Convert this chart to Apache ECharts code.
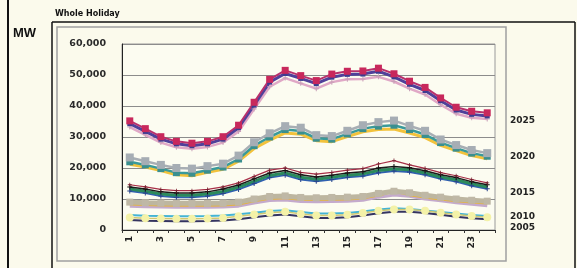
<!DOCTYPE html>
<html>
<head>
<meta charset="utf-8">
<script src="https://cdn.jsdelivr.net/npm/echarts@6/dist/echarts.min.js"></script>
<style>
  html, body { margin: 0; padding: 0; background: #fbfaec; }
  #chart { width: 577px; height: 268px; }
</style>
</head>
<body>
<div id="chart"></div>
<script>
// hours of the day
const hours = Array.from({ length: 24 }, (_, i) => String(i + 1))
const xTickLabels = ['1', '3', '5', '7', '9', '11', '13', '15', '17', '19', '21', '23']
const yTicks = [0, 10000, 20000, 30000, 40000, 50000, 60000]
const yearLabels = ['2025', '2020', '2015', '2010', '2005']

// 2025 band
const y2025a = [35200, 32700, 30100, 28600, 28000, 28600, 30100, 33800, 41200, 48600, 51500, 49800, 48200, 50300, 51200, 51300, 52200, 50400, 48000, 46000, 42600, 39600, 38300, 37800]
const y2025b = [34300, 31800, 29300, 27800, 27200, 27800, 29300, 33000, 40300, 47700, 50500, 48900, 47200, 49300, 50200, 50300, 51200, 49400, 47000, 45000, 41700, 38700, 37300, 36800]
const y2025c = [33200, 30700, 28200, 26700, 26200, 26800, 28200, 31800, 39000, 46200, 49000, 47300, 45600, 47700, 48600, 48700, 49400, 47900, 45600, 43700, 40400, 37500, 36200, 35800]

// 2020 band
const y2020a = [23400, 22200, 21000, 20000, 19800, 20600, 21400, 24000, 28300, 31200, 33500, 33000, 30600, 30300, 32000, 33800, 34800, 35300, 33600, 32000, 29200, 27400, 25800, 24800]
const y2020b = [22000, 21000, 19800, 18500, 18300, 19300, 20300, 22900, 27200, 30000, 32400, 31900, 29600, 29300, 31000, 32700, 33500, 33800, 32400, 30800, 28200, 26400, 24800, 23800]
const y2020c = [21200, 20300, 19200, 17800, 17500, 18600, 19600, 22200, 26300, 29000, 31300, 30900, 28800, 28500, 30100, 31700, 32400, 32600, 31300, 29800, 27300, 25600, 24000, 23000]

// 2015 band
const y2015a = [14600, 13900, 13100, 12700, 12700, 13100, 13900, 15200, 17300, 19300, 20000, 18600, 18000, 18600, 19300, 19800, 21300, 22400, 21000, 19900, 18500, 17500, 16300, 15200]
const y2015b = [13900, 13200, 12300, 11900, 11900, 12300, 13200, 14500, 16500, 18400, 19200, 17800, 17100, 17700, 18400, 18800, 20000, 20500, 20100, 19100, 17800, 16900, 15600, 14600]
const y2015c = [13200, 12500, 11600, 11200, 11200, 11600, 12400, 13800, 15700, 17600, 18400, 17000, 16400, 17000, 17700, 18100, 19200, 19700, 19400, 18400, 17100, 16200, 14900, 13900]
const y2015d = [12600, 11900, 11000, 10600, 10600, 11000, 11800, 13100, 15000, 16900, 17700, 16300, 15700, 16300, 17000, 17400, 18500, 19000, 18700, 17800, 16500, 15600, 14300, 13300]

// 2010 band
const y2010a = [9000, 8800, 8700, 8600, 8600, 8600, 8700, 9000, 10000, 10800, 11000, 10500, 10400, 10500, 10600, 10800, 11800, 12500, 12000, 11200, 10600, 10000, 9600, 9300]
const y2010b = [8400, 8200, 8100, 8000, 8000, 8000, 8100, 8400, 9400, 10200, 10400, 9900, 9800, 9900, 10000, 10300, 11300, 12600, 11400, 10600, 10000, 9400, 9000, 8700]
const y2010c = [7700, 7500, 7400, 7300, 7300, 7300, 7400, 7700, 8700, 9500, 9700, 9200, 9100, 9200, 9300, 9600, 10600, 11300, 10900, 10000, 9400, 8800, 8300, 7800]

// 2005 band
const y2005a = [4800, 4600, 4500, 4400, 4400, 4500, 4700, 5100, 5600, 6100, 6400, 5800, 5300, 5300, 5500, 6000, 6600, 7000, 6800, 6300, 5800, 5300, 4800, 4500]
const y2005b = [4000, 3800, 3700, 3600, 3600, 3700, 3900, 4400, 5000, 5600, 5900, 5200, 4700, 4700, 4900, 5500, 6200, 6600, 6600, 6200, 5600, 5000, 4500, 4100]
const y2005c = [3200, 3000, 2900, 2800, 2800, 2900, 3100, 3500, 4100, 4700, 5000, 4400, 3900, 3900, 4100, 4700, 5400, 5900, 5900, 5500, 4900, 4300, 3800, 3500]

const crossPath = 'path://M4,0 L6,0 L6,4 L10,4 L10,6 L6,6 L6,10 L4,10 L4,6 L0,6 L0,4 L4,4 Z'

const line = (data, color, width, symbol, size, symColor) => ({
  type: 'line',
  data,
  smooth: false,
  symbol: symbol || 'none',
  symbolSize: size || 0,
  showSymbol: !!symbol,
  lineStyle: { color, width },
  itemStyle: { color: symColor || color, borderWidth: 0 },
  animation: false,
  z: 3
})

const chart = echarts.init(document.getElementById('chart'), null, { renderer: 'canvas' })

const labelYs = [122, 158, 194, 218, 229]

// frame, titles and year tags
const frame = [
  { type: 'rect', shape: { x: 7, y: 0, width: 2, height: 268 }, style: { fill: '#111' } },
  { type: 'line', shape: { x1: 52, y1: 22, x2: 52, y2: 268 }, style: { stroke: '#111', lineWidth: 1.5 } },
  { type: 'line', shape: { x1: 52, y1: 22, x2: 575, y2: 22 }, style: { stroke: '#111', lineWidth: 1.5 } },
  { type: 'line', shape: { x1: 575, y1: 22, x2: 575, y2: 268 }, style: { stroke: '#111', lineWidth: 1.5 } },
  { type: 'rect', shape: { x: 57, y: 27, width: 449, height: 234 }, style: { fill: 'none', stroke: '#a0a0a0', lineWidth: 1.5 } },
  { type: 'text', left: 55, top: 10, style: { text: 'Whole Holiday', fontSize: 8, fontWeight: 'bold', fontFamily: 'DejaVu Sans', fill: '#111' } },
  { type: 'text', left: 13, top: 27, style: { text: 'MW', fontSize: 13, fontWeight: 'bold', fontFamily: 'Liberation Sans', fill: '#111' } },
  ...yearLabels.map((t, i) => ({
    type: 'text', left: 510, top: labelYs[i] - 6,
    style: { text: t, fontSize: 9, fontWeight: 'bold', fontFamily: 'DejaVu Sans', fill: '#222' }
  }))
]

chart.setOption({
  backgroundColor: '#fbfaec',
  animation: false,
  grid: {
    left: 122, right: 82, top: 44, bottom: 38,
    show: true, borderColor: '#9a9a9a', borderWidth: 1, backgroundColor: '#fcfcf1'
  },
  xAxis: {
    type: 'category',
    data: hours,
    boundaryGap: true,
    axisLine: { lineStyle: { color: '#222', width: 1 } },
    axisTick: { show: true, alignWithLabel: false, interval: 0, length: 3, lineStyle: { color: '#333' } },
    // labels are drawn rotated below, at the axis's own pixel positions
    axisLabel: { show: false },
    splitLine: { show: false }
  },
  yAxis: {
    type: 'value',
    min: yTicks[0], max: yTicks[yTicks.length - 1], interval: 10000,
    axisLine: { show: true, lineStyle: { color: '#222', width: 1 } },
    axisTick: { show: false },
    axisLabel: {
      color: '#2a2a2a', fontSize: 9.5, fontWeight: 'bold', fontFamily: 'DejaVu Sans', margin: 16,
      formatter: (v) => v.toLocaleString('en-US')
    },
    splitLine: { lineStyle: { color: '#8c8c8c', width: 1.2 } }
  },
  series: [
    // 2025
    line(y2025c, '#e0a8c6', 2.5, crossPath, 5, '#c9a0b8'),
    line(y2025b, '#50409a', 3, 'rect', 5, '#3c3c90'),
    line(y2025a, '#b8306c', 2, 'rect', 7, '#c8285c'),
    // 2020
    line(y2020c, '#f2c23c', 3, 'none'),
    line(y2020b, '#3a9a9a', 2.5, 'rect', 7, '#3a8f8f'),
    line(y2020a, '#a8aeb4', 2.5, 'rect', 8, '#a6adb4'),
    // 2015
    line(y2015d, '#3060b0', 2, crossPath, 5, '#28448a'),
    line(y2015c, '#2b8a5c', 3, 'none'),
    line(y2015b, '#1c1c1c', 1.5, crossPath, 5, '#111'),
    line(y2015a, '#a83048', 1.2, crossPath, 4, '#7a2030'),
    // 2010
    line(y2010c, '#c4aacc', 3, 'none'),
    line(y2010b, '#e4b440', 3, 'none'),
    line(y2010a, '#bdb6a0', 5, 'rect', 7, '#bfb8a6'),
    // 2005
    line(y2005c, '#343460', 2, 'none'),
    line(y2005a, '#44b4d4', 2, 'none'),
    line(y2005b, '#d0c870', 1.5, 'circle', 8, '#f4f2a8')
  ],
  graphic: frame
})

// rotated hour labels, read bottom to top like the original
const axisY = chart.convertToPixel({ yAxisIndex: 0 }, 0)
const hourTexts = xTickLabels.map((h) => ({
  type: 'text',
  x: chart.convertToPixel({ xAxisIndex: 0 }, h),
  y: axisY + 6,
  rotation: Math.PI / 2,
  style: {
    text: h, fontSize: 9, fontWeight: 'bold', fontFamily: 'DejaVu Sans', fill: '#222',
    align: 'right', verticalAlign: 'middle'
  }
}))
chart.setOption({ graphic: frame.concat(hourTexts) })
</script>
</body>
</html>
